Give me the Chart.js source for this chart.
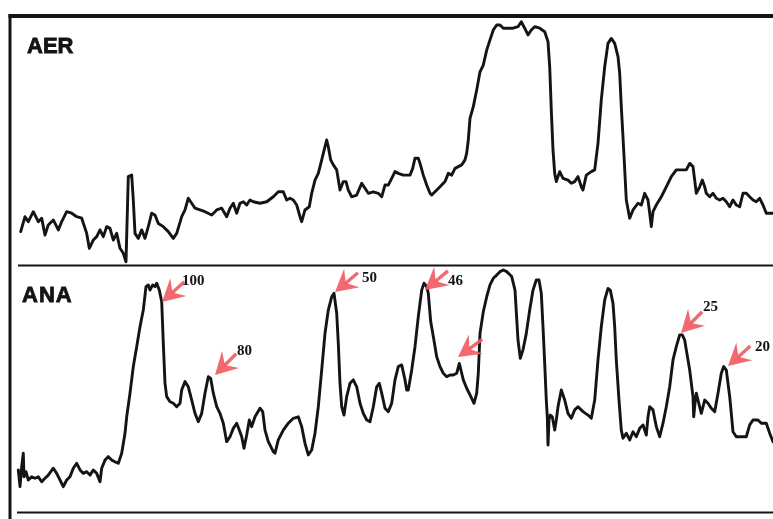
<!DOCTYPE html>
<html><head><meta charset="utf-8">
<script src="https://cdn.jsdelivr.net/npm/chart.js@4.4.1/dist/chart.umd.min.js"></script>
<style>
html,body{margin:0;padding:0;background:#fff;}
#wrap{position:relative;width:773px;height:519px;overflow:hidden;background:#fff;}
canvas{position:absolute;left:0;top:0;}
</style></head><body>
<div id="wrap"><canvas id="cA" width="773" height="519"></canvas><canvas id="cN" width="773" height="519"></canvas></div>
<script>
// ---- DATA (time units on x, relative signal 0-100 on y) ----
const aerTrace = [[10.7,13.4],[15,19.4],[18.3,17.4],[23.3,21.4],[28.3,17.4],[31.7,18.8],[35,12.0],[38.3,16.1],[43.3,18.1],[48.3,14.1],[51.7,17.4],[56.7,21.4],[61.7,20.8],[66.7,19.4],[71.7,18.8],[76.7,12.7],[79.3,6.7],[83.3,10.0],[86.7,11.4],[90,14.1],[93.3,11.4],[96.7,15.4],[100,14.7],[103.3,10.0],[106.7,12.7],[110,6.7],[113.3,4.7],[116,1.3],[118.3,35.5],[121.7,36.1],[123.3,26.1],[125,12.7],[128.3,10.7],[131.7,14.1],[135,10.7],[138.3,15.4],[141.7,20.8],[145,20.1],[148.3,16.7],[153.3,15.4],[158.3,13.4],[163.3,10.7],[166.7,12.7],[171.7,19.4],[175,22.1],[178.3,26.8],[181.7,24.8],[185,22.8],[190,22.1],[195,21.4],[201.7,20.1],[206.7,22.1],[211.7,22.8],[216.7,19.4],[220,22.8],[223.3,24.8],[226.7,20.8],[230,24.8],[233.3,25.4],[236.7,24.1],[240,26.1],[243.3,25.4],[250,24.8],[256.7,25.4],[263.3,27.4],[268.3,29.4],[273.3,29.4],[276.7,26.1],[280,26.8],[283.3,26.1],[286.7,24.1],[290,19.4],[291.7,17.4],[295,22.1],[299.3,23.4],[301.7,28.8],[305,34.1],[308.3,36.8],[311.7,42.2],[315,47.5],[316.7,50.2],[318.3,47.5],[320.7,42.2],[323.3,40.2],[326.7,38.2],[330,30.1],[333.3,33.5],[336,33.5],[338.3,30.1],[341.7,27.4],[346.7,28.1],[351.7,32.8],[355,30.8],[358.3,28.8],[363.3,29.4],[368.3,28.8],[371.7,27.4],[375,32.1],[378.3,32.1],[381.7,34.8],[385,37.5],[388.3,36.8],[393.3,36.1],[400,36.1],[402.7,38.8],[405,42.9],[408.3,42.9],[410,40.8],[413.3,36.1],[416.7,32.1],[420,28.8],[421.7,28.1],[425,29.4],[430,31.4],[435,33.5],[438.3,36.8],[441.7,36.1],[445,38.8],[448.3,39.5],[451.7,40.2],[455,42.2],[456.7,44.9],[458.3,50.2],[460,58.9],[463.3,63.6],[466.7,70.3],[470,77.6],[473.3,80.3],[476.7,86.3],[480,90.4],[483.3,94.4],[486.7,96.4],[490,96.4],[493.3,95.1],[500,95.1],[503,95.1],[508,95.7],[511.3,97.7],[514.7,95.1],[518,92.4],[521.3,94.4],[524.7,95.7],[529.7,95.1],[534.7,93.7],[538,89.7],[539.7,79.6],[541.3,62.2],[543,46.2],[544.7,36.8],[546.3,33.5],[549.7,37.5],[553,34.8],[558,34.1],[561.3,32.8],[564.7,33.5],[568,35.5],[571.3,31.4],[573,30.1],[576.3,36.1],[581.3,37.5],[584.7,38.2],[588,48.9],[591.3,66.3],[594.7,79.6],[598,89.0],[601.3,91.0],[604.7,89.0],[608,83.7],[609.7,77.0],[611.3,63.6],[613.7,46.2],[616.3,26.1],[619.7,18.8],[623,22.1],[628,24.8],[631.3,24.1],[634.7,28.8],[638,26.1],[639.7,20.8],[641.3,15.4],[643,21.4],[646.3,24.1],[651.3,27.4],[656.3,31.4],[661.3,35.5],[666.3,38.2],[671.3,38.2],[676.3,38.2],[679.7,40.8],[683,39.5],[684.7,34.1],[686.3,28.8],[689.7,31.4],[692.3,34.1],[694.7,31.4],[696.3,28.8],[699.7,27.4],[703,28.8],[706.3,26.8],[709.7,26.1],[713,26.8],[716.3,25.4],[719.7,23.4],[723,26.1],[726.3,24.1],[729.7,23.4],[733,28.8],[736.3,28.8],[739.7,27.4],[743,26.1],[746.3,25.4],[749.7,26.8],[753,24.1],[756.3,20.8],[759.7,20.8],[763,20.8]];

const anaTrace = [[8.3,17.1],[10,10.3],[11.7,18.4],[13.3,23.9],[14,14.3],[16,16.4],[18.3,13.0],[21.7,14.3],[25,13.7],[28.3,14.3],[31.7,12.3],[35,13.7],[38.3,15.0],[43.3,17.8],[46.7,15.7],[50,13.0],[53.3,10.3],[56.7,13.0],[60,14.3],[63.3,17.8],[66.7,19.8],[70,17.1],[73.3,15.7],[76.7,16.4],[80,15.0],[83.3,17.1],[86.7,15.7],[90,12.3],[91.7,17.8],[95,21.1],[98.3,22.5],[101.7,21.1],[105,20.4],[108.3,19.8],[111.7,23.9],[115,32.0],[116.7,38.7],[120,48.3],[123.3,59.1],[126.7,67.2],[130,75.3],[133.3,82.1],[136,91.6],[138.3,92.3],[140,90.2],[142.7,92.3],[145,91.6],[146.7,93.0],[149.3,90.2],[151.7,85.5],[153.3,68.6],[155,52.3],[156.7,46.9],[160,44.8],[163.3,44.2],[166.7,42.8],[170,44.2],[171.7,49.6],[175,53.0],[178.3,50.9],[181.7,45.5],[185,40.1],[188.3,36.7],[191.7,40.1],[195,48.3],[198.3,55.0],[200.7,54.3],[203.3,48.3],[206.7,42.8],[210,40.1],[213.3,36.1],[216.7,28.6],[220,30.6],[223.3,34.0],[226.7,36.1],[229.3,33.3],[231.7,30.6],[234,25.9],[236.7,31.3],[239.3,37.4],[241.7,34.7],[245,38.7],[250,42.2],[252.7,40.8],[255,33.3],[258.3,28.6],[263.3,24.5],[265,23.9],[268.3,29.3],[273.3,33.3],[278.3,36.1],[283.3,38.1],[288.3,38.7],[291.7,34.7],[295,27.9],[298.3,23.2],[301.7,25.2],[305,32.0],[308.3,42.8],[311.7,57.7],[315,72.6],[318.3,82.1],[321.7,87.5],[324,88.9],[326.7,80.8],[328.3,68.6],[330,52.3],[331.7,42.8],[334,39.4],[336.7,46.9],[340,52.3],[343.3,53.7],[346.7,50.9],[350,44.2],[353.3,40.1],[356.7,37.4],[360,36.7],[363.3,42.8],[366.7,50.9],[369.3,52.3],[371.7,48.3],[375,42.2],[378.3,40.8],[381.7,44.2],[385,53.7],[388.3,59.1],[391.7,59.8],[395,53.7],[396.7,49.6],[398.3,49.6],[401.7,57.7],[405,67.2],[408.3,79.4],[411.7,90.2],[414,93.0],[416.7,91.6],[418.3,88.9],[420.7,77.4],[423.3,71.3],[426.7,63.1],[430,59.1],[433.3,56.4],[436.7,55.0],[440,55.7],[443.3,55.7],[446.7,56.4],[449.3,60.4],[451.7,56.4],[453.3,53.7],[456.7,50.3],[460,47.6],[464,44.2],[466.7,48.3],[468.3,56.4],[470,72.6],[473.3,81.4],[476.7,87.5],[480,92.3],[483.3,95.0],[486.7,96.3],[490,97.7],[493.3,98.4],[496.7,97.7],[501.7,95.7],[505,90.2],[508,69.9],[510.3,62.5],[513,65.9],[516.3,72.6],[519.7,82.1],[523,90.2],[526.3,94.3],[529,94.3],[531.3,88.9],[533,75.3],[534.7,60.4],[536.3,45.5],[537.3,38.7],[538,27.2],[539,37.4],[540.3,39.4],[542.3,38.7],[544.7,33.3],[546.3,37.4],[548,42.8],[551.3,49.6],[554.7,45.5],[558,40.1],[561.3,38.1],[564.7,41.5],[568,42.8],[573,40.8],[578,39.4],[581.3,38.1],[584.7,45.5],[588,61.8],[591.3,75.3],[594.7,86.2],[598,90.9],[600.3,90.2],[603,84.8],[604.7,75.3],[606.3,61.8],[609,45.5],[611.3,33.3],[613,30.0],[616.3,32.0],[619.7,29.3],[623,32.6],[626.3,30.6],[629.7,34.0],[633,35.4],[636.3,31.3],[638,38.7],[639.7,42.8],[643,41.5],[646.3,34.7],[649.7,30.6],[653,36.1],[656.3,42.8],[659.7,50.9],[663,61.8],[666.3,67.2],[669.7,72.0],[672.3,72.0],[674.7,69.9],[676.3,65.9],[679.7,57.7],[683,46.9],[683.7,38.7],[685,44.2],[686.3,48.3],[688,45.5],[691.3,40.1],[694.7,45.5],[698,44.2],[701.3,42.2],[704.7,40.8],[708,48.3],[711.3,56.4],[713.7,59.1],[716.3,57.7],[719.7,46.9],[721.3,40.1],[723,32.6],[726.3,30.6],[731.3,30.6],[736.3,30.6],[739.7,35.4],[743,37.4],[748,37.4],[751.3,36.1],[756.3,36.1],[759.7,32.0],[763,28.6]];

// peak markers on the ANA trace
const markerX = [152, 205, 325, 415, 448, 671, 718];
const markerY = [85.4, 55.7, 89.4, 90.2, 63.0, 72.8, 59.3];
const markerLabels = ['100', '80', '50', '46', '', '25', '20'];

const panelTitles = ['AER', 'ANA'];

// ---- STYLE ----
const markerAngles = [-42, -45, -40, -40, -36, -45, -42];
const markerLabelOffsets = [[20,-17],[22,-20],[27,-10],[23,-5],[0,0],[22,-22],[27,-15]];
const INK = '#141414';
const ARROW = 'rgba(242,92,100,0.92)';

const frameA = {
  id: 'frameA',
  beforeDatasetsDraw(chart) {
    const c = chart.ctx, a = chart.chartArea;
    c.save();
    c.strokeStyle = INK; c.lineCap = 'butt';
    c.lineWidth = 4;
    c.beginPath(); c.moveTo(a.left - 1.5, a.top); c.lineTo(a.right, a.top); c.stroke();
    c.lineWidth = 3;
    c.beginPath(); c.moveTo(a.left, a.top - 2); c.lineTo(a.left, chart.height); c.stroke();
    c.restore();
  }
};
const frameN = {
  id: 'frameN',
  beforeDatasetsDraw(chart) {
    const c = chart.ctx, a = chart.chartArea;
    c.save();
    c.strokeStyle = INK; c.lineWidth = 2;
    c.beginPath(); c.moveTo(a.left + 8, a.top - 0.5); c.lineTo(a.right, a.top - 0.5); c.stroke();
    c.beginPath(); c.moveTo(a.left + 7, a.bottom + 0.5); c.lineTo(a.right, a.bottom + 0.5); c.stroke();
    c.restore();
  }
};
const titlePlugin = {
  id: 'panelTitle',
  afterDraw(chart, args, opts) {
    const c = chart.ctx, a = chart.chartArea;
    c.save();
    c.font = 'bold 22px "Liberation Sans", Arial, sans-serif';
    c.fillStyle = INK; c.strokeStyle = INK; c.lineWidth = 0.8;
    c.textBaseline = 'alphabetic';
    if (opts.spacing) c.letterSpacing = opts.spacing + 'px';
    c.fillText(opts.text, a.left + opts.dx, a.top + opts.dy);
    c.strokeText(opts.text, a.left + opts.dx, a.top + opts.dy);
    c.restore();
  }
};
const markerPlugin = {
  id: 'peakMarkers',
  afterDatasetsDraw(chart, args, opts) {
    if (!opts.show) return;
    const c = chart.ctx, xs = chart.scales.x, ys = chart.scales.y;
    markerX.forEach((mx, i) => {
      const tx = xs.getPixelForValue(mx), ty = ys.getPixelForValue(markerY[i]);
      const ang = markerAngles[i] * Math.PI / 180;
      c.save();
      c.translate(tx, ty); c.rotate(ang);
      c.fillStyle = ARROW;
      c.beginPath();
      c.moveTo(0, 0); c.lineTo(22, -12); c.lineTo(14, 0); c.lineTo(22, 12); c.closePath();
      c.fill();
      c.fillRect(13, -1.7, 17, 3.4);
      c.restore();
      if (markerLabels[i]) {
        c.save();
        c.font = 'bold 15px "Liberation Serif", "Times New Roman", serif';
        c.fillStyle = INK; c.textBaseline = 'alphabetic';
        const o = markerLabelOffsets[i];
        c.fillText(markerLabels[i], tx + o[0], ty + o[1]);
        c.restore();
      }
    });
  }
};

function makeChart(id, trace, pad, frame, titleOpts, showMarkers) {
  return new Chart(document.getElementById(id), {
    type: 'line',
    data: { datasets: [{
      data: trace.map(p => ({ x: p[0], y: p[1] })),
      borderColor: INK, borderWidth: 2.9, pointRadius: 0, tension: 0,
      fill: false, clip: false, borderJoinStyle: 'round', borderCapStyle: 'round'
    }]},
    options: {
      responsive: false, animation: false, events: [],
      layout: { padding: pad },
      plugins: {
        legend: { display: false }, tooltip: { enabled: false },
        panelTitle: titleOpts, peakMarkers: { show: showMarkers }
      },
      scales: {
        x: { type: 'linear', min: 0, max: 763, display: false },
        y: { min: 0, max: 100, display: false }
      }
    },
    plugins: [frame, titlePlugin, markerPlugin]
  });
}

makeChart('cA', aerTrace, { left: 10, right: 0, top: 16, bottom: 254 }, frameA,
  { text: panelTitles[0], dx: 17, dy: 37, spacing: 0 }, false);
makeChart('cN', anaTrace, { left: 10, right: 0, top: 266, bottom: 7 }, frameN,
  { text: panelTitles[1], dx: 12, dy: 36, spacing: 1 }, true);
</script>
</body></html>
